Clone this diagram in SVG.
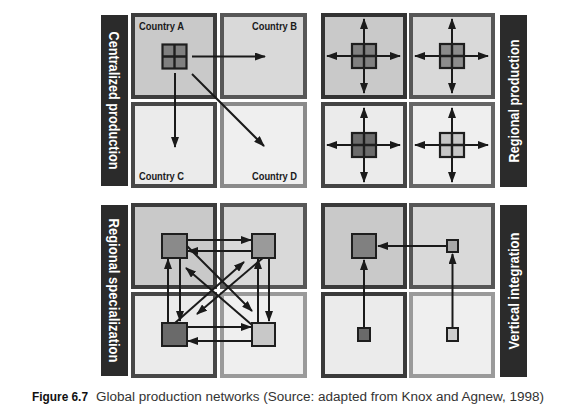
<svg xmlns="http://www.w3.org/2000/svg" width="561" height="411" viewBox="0 0 561 411">
<defs>
<marker id="ah" markerUnits="userSpaceOnUse" markerWidth="11" markerHeight="8" refX="10" refY="4" orient="auto">
<path d="M0,0 L11,4 L0,8 z" fill="#1a1a1a"/>
</marker>
<g id="fac">
<rect x="-12" y="-12" width="24" height="24" stroke="#1e1e1e" stroke-width="2.2"/>
<path d="M0,-12 V12 M-12,0 H12" stroke="#1e1e1e" stroke-width="2.4"/>
</g>
</defs>
<style>
.bar{fill:#2b2b2b}
.bt{font-family:"Liberation Sans",Arial,sans-serif;font-weight:bold;font-size:15px;fill:#ffffff;text-anchor:middle}
.cl{font-family:"Liberation Sans",Arial,sans-serif;font-weight:bold;font-size:11px;fill:#1a1a1a}
.sq{stroke-width:4}
.a{fill:#c9c9c9}.b{fill:#d9d9d9}.c{fill:#ebebeb}.d{fill:#efefef}
.ln{stroke:#1a1a1a;stroke-width:2;fill:none;marker-end:url(#ah)}
.nd{stroke:#1e1e1e;stroke-width:2}
.cap{font-family:"Liberation Sans",Arial,sans-serif;font-size:12px;fill:#333}
</style>
<rect width="561" height="411" fill="#ffffff"/>

<!-- Panel 1: Centralized production -->
<g id="panel-centralized">
<rect class="bar" x="101" y="15" width="27" height="171"/>
<text class="bt" transform="translate(114.5,100.5) rotate(90)" y="5.5" textLength="138" lengthAdjust="spacingAndGlyphs">Centralized production</text>
<g id="countryA"><rect class="sq a" x="133" y="15" width="82" height="82" stroke="#3c3c3c"/><text class="cl" x="139" y="30" textLength="45" lengthAdjust="spacingAndGlyphs">Country A</text></g>
<g id="countryB"><rect class="sq b" x="222" y="15" width="83" height="82" stroke="#575757"/><text class="cl" x="252" y="30" textLength="45" lengthAdjust="spacingAndGlyphs">Country B</text></g>
<g id="countryC"><rect class="sq c" x="133" y="104" width="82" height="82" stroke="#474747"/><text class="cl" x="139" y="180" textLength="45" lengthAdjust="spacingAndGlyphs">Country C</text></g>
<g id="countryD"><rect class="sq d" x="222" y="104" width="83" height="82" stroke="#8a8a8a"/><text class="cl" x="252" y="180" textLength="45" lengthAdjust="spacingAndGlyphs">Country D</text></g>
<g id="factoryA"><use href="#fac" x="174.5" y="56.5" fill="#808080"/></g>
<g id="connectors-centralized">
<line class="ln" x1="192" y1="56.5" x2="265" y2="56.5"/>
<line class="ln" x1="175" y1="73" x2="175" y2="147"/>
<line class="ln" x1="192" y1="74" x2="264" y2="146"/>
</g>
</g>

<!-- Panel 2: Regional production -->
<g id="panel-regional">
<rect class="bar" x="500" y="15" width="27" height="172"/>
<text class="bt" transform="translate(513.5,101) rotate(-90)" y="5.5" textLength="123" lengthAdjust="spacingAndGlyphs">Regional production</text>
<g id="r-tl"><rect class="sq a" x="323" y="15" width="82" height="82" stroke="#333333"/><use href="#fac" x="364" y="56" fill="#808080"/></g>
<g id="r-tr"><rect class="sq b" x="411" y="15" width="82" height="82" stroke="#575757"/><use href="#fac" x="452" y="56" fill="#8c8c8c"/></g>
<g id="r-bl"><rect class="sq c" x="323" y="104" width="82" height="82" stroke="#444444"/><use href="#fac" x="364" y="145" fill="#6c6c6c"/></g>
<g id="r-br"><rect class="sq d" x="411" y="104" width="82" height="82" stroke="#666666"/><use href="#fac" x="452" y="145" fill="#c6c6c6"/></g>
<g id="connectors-regional">
<path class="ln" d="M364,43 V19"/><path class="ln" d="M364,69 V93"/><path class="ln" d="M351,56 H327"/><path class="ln" d="M377,56 H400"/>
<path class="ln" d="M452,43 V19"/><path class="ln" d="M452,69 V93"/><path class="ln" d="M439,56 H415"/><path class="ln" d="M465,56 H488"/>
<path class="ln" d="M364,132 V108"/><path class="ln" d="M364,158 V182"/><path class="ln" d="M351,145 H327"/><path class="ln" d="M377,145 H400"/>
<path class="ln" d="M452,132 V108"/><path class="ln" d="M452,158 V182"/><path class="ln" d="M439,145 H415"/><path class="ln" d="M465,145 H488"/>
</g>
</g>

<!-- Panel 3: Regional specialization -->
<g id="panel-specialization">
<rect class="bar" x="101" y="205" width="27" height="171"/>
<text class="bt" transform="translate(114.5,290.5) rotate(90)" y="5.5" textLength="144" lengthAdjust="spacingAndGlyphs">Regional specialization</text>
<g id="s-tl"><rect class="sq a" x="133" y="205" width="82" height="82" stroke="#3c3c3c"/></g>
<g id="s-tr"><rect class="sq b" x="222" y="205" width="83" height="82" stroke="#575757"/></g>
<g id="s-bl"><rect class="sq c" x="133" y="294" width="82" height="82" stroke="#474747"/></g>
<g id="s-br"><rect class="sq d" x="222" y="294" width="83" height="82" stroke="#9a9a9a"/></g>
<g id="connectors-specialization">
<line class="ln" x1="187" y1="240" x2="251" y2="240"/>
<line class="ln" x1="252" y1="251" x2="188" y2="251"/>
<line class="ln" x1="187" y1="327" x2="251" y2="327"/>
<line class="ln" x1="252" y1="341" x2="188" y2="341"/>
<line class="ln" x1="168" y1="323" x2="168" y2="259"/>
<line class="ln" x1="180" y1="258" x2="180" y2="321"/>
<line class="ln" x1="269" y1="258" x2="269" y2="321"/>
<line class="ln" x1="258" y1="323" x2="258" y2="259"/>
<line class="ln" x1="186" y1="245" x2="252" y2="311"/>
<line class="ln" x1="252" y1="325" x2="186" y2="268"/>
<line class="ln" x1="264" y1="257" x2="197" y2="314"/>
<line class="ln" x1="175" y1="323" x2="244" y2="262"/>
</g>
<g id="n-tl"><rect class="nd" x="162" y="234" width="25" height="24" fill="#8a8a8a"/></g>
<g id="n-tr"><rect class="nd" x="252" y="234" width="23" height="24" fill="#9a9a9a"/></g>
<g id="n-bl"><rect class="nd" x="162" y="323" width="25" height="23" fill="#6a6a6a"/></g>
<g id="n-br"><rect class="nd" x="252" y="323" width="23" height="23" fill="#c8c8c8"/></g>
</g>

<!-- Panel 4: Vertical integration -->
<g id="panel-vertical">
<rect class="bar" x="500" y="205" width="27" height="172"/>
<text class="bt" transform="translate(513.5,291) rotate(-90)" y="5.5" textLength="117" lengthAdjust="spacingAndGlyphs">Vertical integration</text>
<g id="v-tl"><rect class="sq a" x="323" y="205" width="82" height="82" stroke="#3a3a3a"/></g>
<g id="v-tr"><rect class="sq b" x="411" y="205" width="82" height="82" stroke="#575757"/></g>
<g id="v-bl"><rect class="sq c" x="323" y="294" width="82" height="82" stroke="#3a3a3a"/></g>
<g id="v-br"><rect class="sq d" x="411" y="294" width="82" height="82" stroke="#9a9a9a"/></g>
<g id="connectors-vertical">
<line class="ln" x1="447" y1="246" x2="378" y2="246"/>
<line class="ln" x1="364" y1="328" x2="364" y2="260"/>
<line class="ln" x1="452.5" y1="328" x2="452.5" y2="254"/>
</g>
<g id="v-n1"><rect class="nd" x="352" y="234" width="24" height="24" fill="#808080"/></g>
<g id="v-n2"><rect class="nd" x="447" y="240" width="11" height="12" fill="#a8a8a8"/></g>
<g id="v-n3"><rect class="nd" x="358" y="328" width="12" height="13" fill="#6a6a6a"/></g>
<g id="v-n4"><rect class="nd" x="447" y="328" width="11" height="13" fill="#cccccc"/></g>
</g>

<g id="caption">
<text class="cap" x="32" y="401" textLength="56" lengthAdjust="spacingAndGlyphs"><tspan font-weight="bold" fill="#111">Figure 6.7</tspan></text>
<text class="cap" x="96" y="401" textLength="448" lengthAdjust="spacingAndGlyphs">Global production networks (Source: adapted from Knox and Agnew, 1998)</text>
</g>
</svg>
